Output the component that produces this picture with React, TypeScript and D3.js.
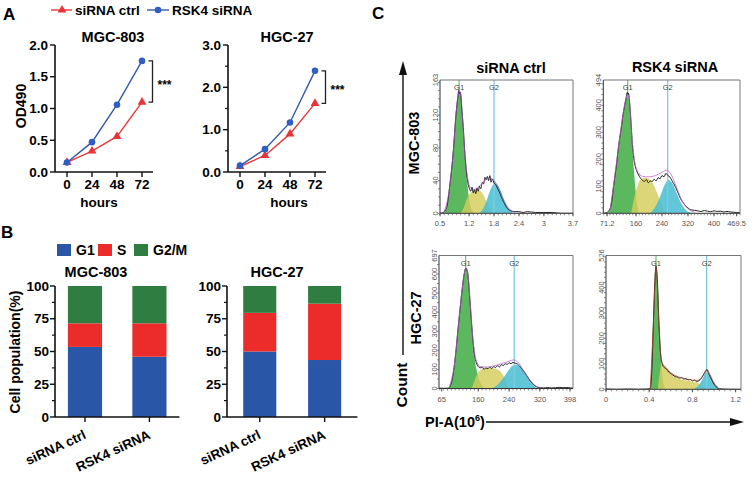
import React from 'react';
import * as d3 from 'd3';

const FONT = '"Liberation Sans", Arial, Helvetica, sans-serif';
const RED = '#e53a3a';
const BLUE = '#3459a9';
const RED_M = '#e8333a';
const BLUE_M = '#2f5fc4';

// ---------- Panel A data ----------
const hours = [0, 24, 48, 72];
const seriesNames = ['siRNA ctrl', 'RSK4 siRNA'];
const mgcOdCtrl = [0.15, 0.33, 0.56, 1.1];
const mgcOdKd = [0.15, 0.47, 1.06, 1.75];
const hgcOdCtrl = [0.13, 0.39, 0.9, 1.62];
const hgcOdKd = [0.15, 0.54, 1.17, 2.39];
const mgcOdTicks = [0, 0.5, 1.0, 1.5, 2.0];
const hgcOdTicks = [0, 1.0, 2.0, 3.0];
const hgcOdMinor = [0.5, 1.5, 2.5];

// ---------- Panel B data ----------
const groups = ['siRNA ctrl', 'RSK4 siRNA'];
const phases = ['G1', 'S', 'G2/M'];
const phaseColors = ['#2a56a8', '#ec2b2b', '#2f7d41'];
const mgcG1 = [53.5, 46];
const mgcS = [18, 25.5];
const mgcG2 = [28.5, 28.5];
const hgcG1 = [50, 43.5];
const hgcS = [29.5, 43];
const hgcG2 = [20.5, 13.5];
const popTicks = [0, 25, 50, 75, 100];
const popMinor = [12.5, 37.5, 62.5, 87.5];

// ---------- Panel C data ----------
type Pt = [number, number];
const c1XTicks = [0.5, 1.2, 1.8, 2.4, 3, 3.7];
const c1YTicks = [0, 40, 80, 120, 163];
const c1G1: Pt[] = [[0.58,0],[0.66,6],[0.74,35],[0.82,75],[0.885,120],[0.94,145],[0.965,149],[1.0,144],[1.045,112],[1.1,67],[1.16,35],[1.22,12],[1.3,2],[1.38,0]];
const c1S: Pt[] = [[1.0,0],[1.08,8],[1.14,17],[1.26,26],[1.38,29],[1.5,26],[1.62,14],[1.7,5],[1.76,0]];
const c1G2: Pt[] = [[1.46,0],[1.58,10],[1.7,27],[1.82,37],[1.94,30],[2.06,15],[2.18,4],[2.28,0]];
const c1Total: Pt[] = [[0.5,0],[0.58,1],[0.66,7],[0.74,36],[0.82,76],[0.885,121],[0.93,142],[0.95,150],[0.97,146],[0.99,148],[1.02,130],[1.06,105],[1.1,72],[1.14,48],[1.18,35],[1.21,30],[1.24,27],[1.27,32],[1.3,25],[1.33,29],[1.36,24],[1.39,31],[1.42,27],[1.45,33],[1.48,30],[1.52,38],[1.55,36],[1.58,44],[1.61,41],[1.64,45],[1.67,40],[1.7,46],[1.73,38],[1.76,42],[1.8,37],[1.84,35],[1.88,31],[1.92,27],[1.96,22],[2.0,17],[2.04,13],[2.08,9],[2.12,6],[2.16,4],[2.2,3],[2.3,2],[2.4,2],[2.5,1],[2.6,2],[2.8,1],[3.0,1],[3.2,1],[3.4,0],[3.7,0]];
const c1Fit: Pt[] = [[0.6,2],[0.74,35],[0.82,76],[0.885,121],[0.94,146],[0.965,150],[1.0,145],[1.045,114],[1.1,72],[1.16,45],[1.22,32],[1.3,29],[1.4,31],[1.5,36],[1.6,41],[1.7,43],[1.8,40],[1.9,32],[2.0,19],[2.1,9],[2.2,4],[2.3,1]];

const c2XTicks = [71.2, 160, 240, 320, 400, 469.5];
const c2YTicks = [0, 100, 200, 300, 400, 494];
const c2G1: Pt[] = [[70,0],[76,6],[91,105],[107,253],[120,364],[130,426],[134.5,432],[139.5,413],[147.7,265],[154.8,142],[161,56],[168,6],[172,0]];
const c2S: Pt[] = [[145,0],[160,85],[172,122],[185,132],[200,128],[212,110],[225,75],[238,35],[250,5],[255,0]];
const c2G2: Pt[] = [[204,0],[220,25],[235,65],[248,105],[260,123],[272,110],[285,75],[300,35],[315,10],[330,2],[338,0]];
const c2Total: Pt[] = [[60,0],[70,3],[76,8],[85,40],[91,100],[100,180],[107,255],[114,310],[120,365],[126,405],[130,430],[133,448],[135,440],[137,445],[140,415],[144,350],[148,270],[152,215],[157,178],[162,158],[168,142],[174,130],[180,122],[186,118],[192,125],[198,113],[204,120],[210,118],[216,126],[222,120],[228,132],[234,128],[240,140],[246,135],[252,148],[258,140],[264,135],[270,122],[276,110],[282,96],[288,80],[294,62],[300,48],[306,38],[312,28],[318,22],[324,16],[330,13],[340,11],[350,9],[360,7],[370,10],[380,8],[390,6],[400,9],[410,7],[420,8],[430,5],[440,7],[450,5],[460,4],[470,3],[480,2]];
const c2Fit: Pt[] = [[80,10],[91,105],[107,255],[120,367],[130,430],[134,440],[140,415],[148,275],[155,200],[165,155],[180,137],[200,135],[220,140],[240,152],[255,160],[265,150],[280,112],[295,65],[310,30],[325,12],[340,4]];

const c3XTicks = [65, 160, 240, 320, 398];
const c3YTicks = [0, 100, 200, 300, 400, 500, 600, 697];
const c3G1: Pt[] = [[82,0],[91,36],[99.5,149],[108,324],[117,499],[123,595],[128,630],[132.5,604],[138.5,464],[145.4,272],[151.4,149],[160,63],[168.7,18],[177.4,0]];
const c3S: Pt[] = [[143,0],[152,50],[162,90],[175,105],[190,108],[205,103],[218,88],[228,55],[238,0]];
const c3G2: Pt[] = [[195,0],[210,20],[225,55],[240,100],[255,125],[268,115],[282,80],[295,40],[305,15],[312,0]];
const c3Total: Pt[] = [[58,2],[70,1],[82,2],[91,36],[99.5,149],[108,324],[117,499],[123,595],[128,632],[130,625],[133,600],[138,470],[145,280],[150,180],[155,135],[160,115],[165,108],[170,112],[175,100],[180,108],[185,104],[190,112],[195,105],[200,115],[205,110],[210,120],[215,113],[220,125],[225,120],[230,130],[235,126],[240,135],[245,130],[250,137],[255,133],[260,130],[265,122],[270,112],[275,98],[280,85],[285,70],[290,55],[295,40],[300,28],[305,18],[310,10],[315,6],[320,4],[330,3],[340,5],[350,3],[360,4],[370,6],[380,4],[390,5],[400,3],[406,2]];
const c3Fit: Pt[] = [[85,10],[99.5,150],[108,326],[117,500],[123,597],[128,632],[133,600],[138.5,468],[145,285],[150,190],[155,145],[165,115],[180,112],[200,118],[220,130],[240,143],[252,150],[262,140],[275,102],[290,55],[305,20],[318,5]];

const c4XTicks = [0, 0.4, 0.8, 1.2];
const c4YTicks = [0, 100, 200, 300, 400, 526];
const c4G1: Pt[] = [[0.407,0],[0.423,63],[0.438,247],[0.451,406],[0.463,478],[0.475,432],[0.491,247],[0.506,129],[0.525,43],[0.546,0]];
const c4S: Pt[] = [[0.48,0],[0.5,70],[0.52,100],[0.55,85],[0.6,60],[0.65,45],[0.7,38],[0.75,35],[0.8,30],[0.85,25],[0.88,15],[0.91,5],[0.93,0]];
const c4G2: Pt[] = [[0.81,0],[0.85,12],[0.89,38],[0.93,68],[0.96,55],[0.99,30],[1.02,12],[1.05,3],[1.065,0]];
const c4Total: Pt[] = [[0,1],[0.1,0],[0.2,1],[0.3,0],[0.38,1],[0.407,2],[0.423,63],[0.438,250],[0.451,410],[0.463,484],[0.475,435],[0.491,250],[0.506,135],[0.52,100],[0.54,85],[0.56,80],[0.58,68],[0.6,62],[0.62,56],[0.64,50],[0.66,48],[0.68,44],[0.7,46],[0.72,40],[0.74,42],[0.76,37],[0.78,39],[0.8,33],[0.82,36],[0.84,30],[0.86,34],[0.88,42],[0.9,55],[0.92,70],[0.935,78],[0.95,62],[0.97,45],[0.99,28],[1.01,14],[1.03,6],[1.05,2],[1.08,1],[1.15,0],[1.25,0]];
const c4Fit: Pt[] = [[0.41,2],[0.438,250],[0.463,482],[0.491,250],[0.506,140],[0.52,105],[0.55,88],[0.6,65],[0.65,52],[0.7,45],[0.75,40],[0.8,36],[0.85,35],[0.9,55],[0.935,78],[0.96,60],[1.0,25],[1.04,6]];

// ---------- Components ----------
function OdChart(p: any) {
  const x = d3.scaleLinear().domain([0, 72]).range(p.xr);
  const y = d3.scaleLinear().domain([0, p.yMax]).range([172, 45]);
  const line = d3.line<number>().x((_, i) => x(hours[i])).y((d) => y(d));
  const tri = d3.symbol(d3.symbolTriangle, 34)() as string;
  const last = hours.length - 1;
  const bx = x(72) + 10.5;
  const yt = y(p.kd[last]);
  const yb = y(p.ctrl[last]);
  return (
    <g fontFamily={FONT} fontWeight="bold">
      <text x={p.titleX} y={42} textAnchor="middle" fontSize={14.5}>{p.title}</text>
      <line x1={p.axisX} x2={p.axisX} y1={y(0)} y2={y(p.yMax)} stroke="#111" strokeWidth={1.6} />
      <line x1={p.axisX} x2={p.axisEnd} y1={y(0)} y2={y(0)} stroke="#111" strokeWidth={1.6} />
      {p.yTicks.map((t: number) => (
        <g key={t}>
          <line x1={p.axisX - 5} x2={p.axisX} y1={y(t)} y2={y(t)} stroke="#111" strokeWidth={1.4} />
          <text x={p.axisX - 7} y={y(t) + 4.7} textAnchor="end" fontSize={13.5}>{t.toFixed(1)}</text>
        </g>
      ))}
      {(p.yMinor || []).map((t: number) => (
        <line key={t} x1={p.axisX - 3} x2={p.axisX} y1={y(t)} y2={y(t)} stroke="#111" strokeWidth={1.2} />
      ))}
      {hours.map((h) => (
        <g key={h}>
          <line x1={x(h)} x2={x(h)} y1={y(0)} y2={y(0) + 5} stroke="#111" strokeWidth={1.4} />
          <text x={x(h)} y={188.5} textAnchor="middle" fontSize={13.5}>{h}</text>
        </g>
      ))}
      <text x={p.hoursX} y={207} textAnchor="middle" fontSize={13.5}>hours</text>
      <path d={line(p.ctrl) as string} fill="none" stroke={RED} strokeWidth={1.4} />
      <path d={line(p.kd) as string} fill="none" stroke={BLUE} strokeWidth={1.4} />
      {p.ctrl.map((v: number, i: number) => (
        <path key={'r' + i} d={tri} transform={`translate(${x(hours[i])},${y(v)})`} fill={RED_M} />
      ))}
      {p.kd.map((v: number, i: number) => (
        <circle key={'b' + i} cx={x(hours[i])} cy={y(v)} r={3.3} fill={BLUE_M} />
      ))}
      <path d={`M${bx - 4},${yt}H${bx}V${yb}H${bx - 4}`} fill="none" stroke="#222" strokeWidth={1.3} />
      <text x={bx + 5} y={(yt + yb) / 2 + 7} fontSize={12}>***</text>
    </g>
  );
}

function PopChart(p: any) {
  const x = d3.scaleBand().domain(groups).range([p.axisX, p.axisEnd]).paddingInner(p.pin).paddingOuter(p.pout);
  const y = d3.scaleLinear().domain([0, 100]).range([417, 286]);
  const rows = groups.map((g, i) => ({ g, G1: p.g1[i], S: p.s[i], 'G2/M': p.g2[i] }));
  const stack = d3.stack<any>().keys(phases)(rows);
  return (
    <g fontFamily={FONT} fontWeight="bold">
      <text x={p.titleX} y={277} textAnchor="middle" fontSize={14.5}>{p.title}</text>
      {stack.map((layer, li) =>
        layer.map((seg, gi) => (
          <rect key={li + '-' + gi} x={x(groups[gi]) as number} width={x.bandwidth()} y={y(seg[1])} height={y(seg[0]) - y(seg[1])} fill={phaseColors[li]} />
        ))
      )}
      <line x1={p.axisX} x2={p.axisX} y1={y(0)} y2={y(100)} stroke="#111" strokeWidth={1.6} />
      <line x1={p.axisX} x2={p.axisEnd} y1={y(0)} y2={y(0)} stroke="#111" strokeWidth={1.6} />
      {popTicks.map((t) => (
        <g key={t}>
          <line x1={p.axisX - 5} x2={p.axisX} y1={y(t)} y2={y(t)} stroke="#111" strokeWidth={1.4} />
          <text x={p.axisX - 6} y={y(t) + 4.7} textAnchor="end" fontSize={13.5}>{t}</text>
        </g>
      ))}
      {popMinor.map((t) => (
        <line key={t} x1={p.axisX - 3} x2={p.axisX} y1={y(t)} y2={y(t)} stroke="#111" strokeWidth={1.2} />
      ))}
      {groups.map((g) => {
        const cx = (x(g) as number) + x.bandwidth() / 2;
        return (
          <g key={g}>
            <line x1={cx} x2={cx} y1={y(0)} y2={y(0) + 5} stroke="#111" strokeWidth={1.4} />
            <text transform={`translate(${cx + 2},${438}) rotate(-25)`} textAnchor="end" fontSize={13.5}>{g}</text>
          </g>
        );
      })}
    </g>
  );
}

function Histo(p: any) {
  const [L, R, T, B] = p.box;
  const x = d3.scaleLinear().domain(p.xDomain).range([L, R]);
  const y = d3.scaleLinear().domain([0, p.yMax]).range([B, T]);
  const area = d3.area<Pt>().x((d) => x(d[0])).y0(B).y1((d) => y(d[1])).curve(d3.curveMonotoneX);
  const line = d3.line<Pt>().x((d) => x(d[0])).y((d) => y(d[1])).curve(d3.curveMonotoneX);
  const minor = x.ticks(36);
  const yMinor = y.ticks(20);
  return (
    <g fontFamily={FONT}>
      <defs>
        <clipPath id={p.id}>
          <rect x={L} y={T} width={R - L} height={B - T} />
        </clipPath>
      </defs>
      <g clipPath={`url(#${p.id})`}>
        <path d={area(p.g1) as string} fill="#3fab42" fillOpacity={0.85} />
        <path d={area(p.s) as string} fill="#d6cd5a" fillOpacity={0.82} />
        <path d={area(p.g2) as string} fill="#46bdd2" fillOpacity={0.85} />
        <line x1={x(p.g1Pos)} x2={x(p.g1Pos)} y1={T} y2={B} stroke="#5fb85e" strokeWidth={1.1} />
        <line x1={x(p.g2Pos)} x2={x(p.g2Pos)} y1={T} y2={B} stroke="#7ccde0" strokeWidth={1.3} />
        <path d={line(p.total) as string} fill="none" stroke="#222" strokeWidth={1} />
        <path d={line(p.fit) as string} fill="none" stroke={p.fitColor} strokeWidth={0.9} strokeOpacity={0.85} />
      </g>
      <text x={x(p.g1Pos)} y={T + 10} textAnchor="middle" fontSize={7.5} fill="#444">G1</text>
      <text x={x(p.g2Pos)} y={T + 10} textAnchor="middle" fontSize={7.5} fill="#444">G2</text>
      <line x1={L} x2={R} y1={T} y2={T} stroke="#777" strokeWidth={1} />
      <line x1={R} x2={R} y1={T} y2={B} stroke="#777" strokeWidth={1} />
      <line x1={L} x2={L} y1={T} y2={B} stroke="#333" strokeWidth={1} />
      <line x1={L} x2={R} y1={B} y2={B} stroke="#333" strokeWidth={1} />
      {minor.map((t, i) => (
        <line key={'mx' + i} x1={x(t)} x2={x(t)} y1={B} y2={B + 2} stroke="#555" strokeWidth={0.7} />
      ))}
      {yMinor.map((t, i) => (
        <line key={'my' + i} x1={L - 2} x2={L} y1={y(t)} y2={y(t)} stroke="#555" strokeWidth={0.7} />
      ))}
      {p.xTicks.map((t: number, i: number) => (
        <g key={'x' + i}>
          <line x1={x(t)} x2={x(t)} y1={B} y2={B + 3} stroke="#444" strokeWidth={0.9} />
          <text x={x(t)} y={B + 13} textAnchor="middle" fontSize={7.5} fill="#555">{String(t)}</text>
        </g>
      ))}
      {p.yTicks.map((t: number, i: number) => (
        <text key={'y' + i} transform={`translate(${L - 2.5},${y(t)}) rotate(-90)`} textAnchor="middle" fontSize={7.5} fill="#555">{String(t)}</text>
      ))}
    </g>
  );
}

export default function App() {
  const tri = d3.symbol(d3.symbolTriangle, 34)() as string;
  return (
    <svg width={753} height={482} style={{ position: 'absolute', left: 0, top: 0, background: '#fff' }} fontFamily={FONT}>
      <rect width={753} height={482} fill="#fff" />
      {/* Panel letters */}
      <text x={3} y={20} fontSize={17} fontWeight="bold">A</text>
      <text x={1} y={238} fontSize={17} fontWeight="bold">B</text>
      <text x={372} y={19} fontSize={17} fontWeight="bold">C</text>

      {/* Legend A */}
      <g fontWeight="bold" fontSize={13.5}>
        <line x1={51} x2={72} y1={10} y2={10} stroke={RED} strokeWidth={1.4} />
        <path d={tri} transform="translate(62,10)" fill={RED_M} />
        <text x={75} y={15}>{seriesNames[0]}</text>
        <line x1={147} x2={169} y1={10} y2={10} stroke={BLUE} strokeWidth={1.4} />
        <circle cx={158} cy={10} r={3.3} fill={BLUE_M} />
        <text x={172} y={15}>{seriesNames[1]}</text>
      </g>
      <text transform="translate(25.5,106) rotate(-90)" textAnchor="middle" fontSize={14} fontWeight="bold">OD490</text>

      <OdChart title="MGC-803" titleX={113} hoursX={99} axisX={55} axisEnd={153} xr={[67, 142]} yMax={2} yTicks={mgcOdTicks} ctrl={mgcOdCtrl} kd={mgcOdKd} />
      <OdChart title="HGC-27" titleX={287} hoursX={289} axisX={228} axisEnd={326} xr={[240, 315]} yMax={3} yTicks={hgcOdTicks} yMinor={hgcOdMinor} ctrl={hgcOdCtrl} kd={hgcOdKd} />

      {/* Legend B */}
      <g fontWeight="bold" fontSize={14}>
        {phases.map((ph, i) => {
          const xs = [57, 98, 134][i];
          return (
            <g key={ph}>
              <rect x={xs} y={244} width={14} height={12} fill={phaseColors[i]} />
              <text x={xs + 19} y={255}>{ph}</text>
            </g>
          );
        })}
      </g>
      <text transform="translate(20,352) rotate(-90)" textAnchor="middle" fontSize={14} fontWeight="bold">Cell population(%)</text>
      <PopChart title="MGC-803" titleX={96} axisX={55} axisEnd={179.4} pin={0.47} pout={0.2} g1={mgcG1} s={mgcS} g2={mgcG2} />
      <PopChart title="HGC-27" titleX={277} axisX={227} axisEnd={357.4} pin={0.49} pout={0.25} g1={hgcG1} s={hgcS} g2={hgcG2} />

      {/* Panel C */}
      <g fontWeight="bold" fontSize={14.5}>
        <text x={511} y={73} textAnchor="middle">siRNA ctrl</text>
        <text x={675} y={72} textAnchor="middle">RSK4 siRNA</text>
        <text transform="translate(418.5,143) rotate(-90)" textAnchor="middle">MGC-803</text>
        <text transform="translate(420.5,318) rotate(-90)" textAnchor="middle">HGC-27</text>
        <text transform="translate(406.5,385) rotate(-90)" textAnchor="middle" fontSize={15.5}>Count</text>
        <text x={425} y={427} fontSize={14.5}>PI-A(10<tspan dy={-6} fontSize={9}>6</tspan><tspan dy={6}>)</tspan></text>
      </g>
      <line x1={403} x2={403} y1={72} y2={355} stroke="#111" strokeWidth={1.4} />
      <path d="M403,61L399,75L407,75Z" fill="#111" />
      <line x1={486} x2={732} y1={422} y2={422} stroke="#111" strokeWidth={1.4} />
      <path d="M744,422L730,418L730,426Z" fill="#111" />

      <Histo id="h1" box={[440, 573, 80, 213.3]} xDomain={[0.5, 3.7]} xTicks={c1XTicks} yMax={163} yTicks={c1YTicks} g1={c1G1} s={c1S} g2={c1G2} total={c1Total} fit={c1Fit} g1Pos={0.96} g2Pos={1.8} fitColor="#a050c0" />
      <Histo id="h2" box={[603.3, 740, 80, 213.3]} xDomain={[59.4, 480]} xTicks={c2XTicks} yMax={494} yTicks={c2YTicks} g1={c2G1} s={c2S} g2={c2G2} total={c2Total} fit={c2Fit} g1Pos={134.5} g2Pos={257.5} fitColor="#c060c8" />
      <Histo id="h3" box={[439, 573, 255.5, 388.5]} xDomain={[58, 406]} xTicks={c3XTicks} yMax={697} yTicks={c3YTicks} g1={c3G1} s={c3S} g2={c3G2} total={c3Total} fit={c3Fit} g1Pos={127.3} g2Pos={253.4} fitColor="#b060c8" />
      <Histo id="h4" box={[606, 741, 255.5, 389.3]} xDomain={[0, 1.25]} xTicks={c4XTicks} yMax={526} yTicks={c4YTicks} g1={c4G1} s={c4S} g2={c4G2} total={c4Total} fit={c4Fit} g1Pos={0.463} g2Pos={0.932} fitColor="#a0442e" />
    </svg>
  );
}
